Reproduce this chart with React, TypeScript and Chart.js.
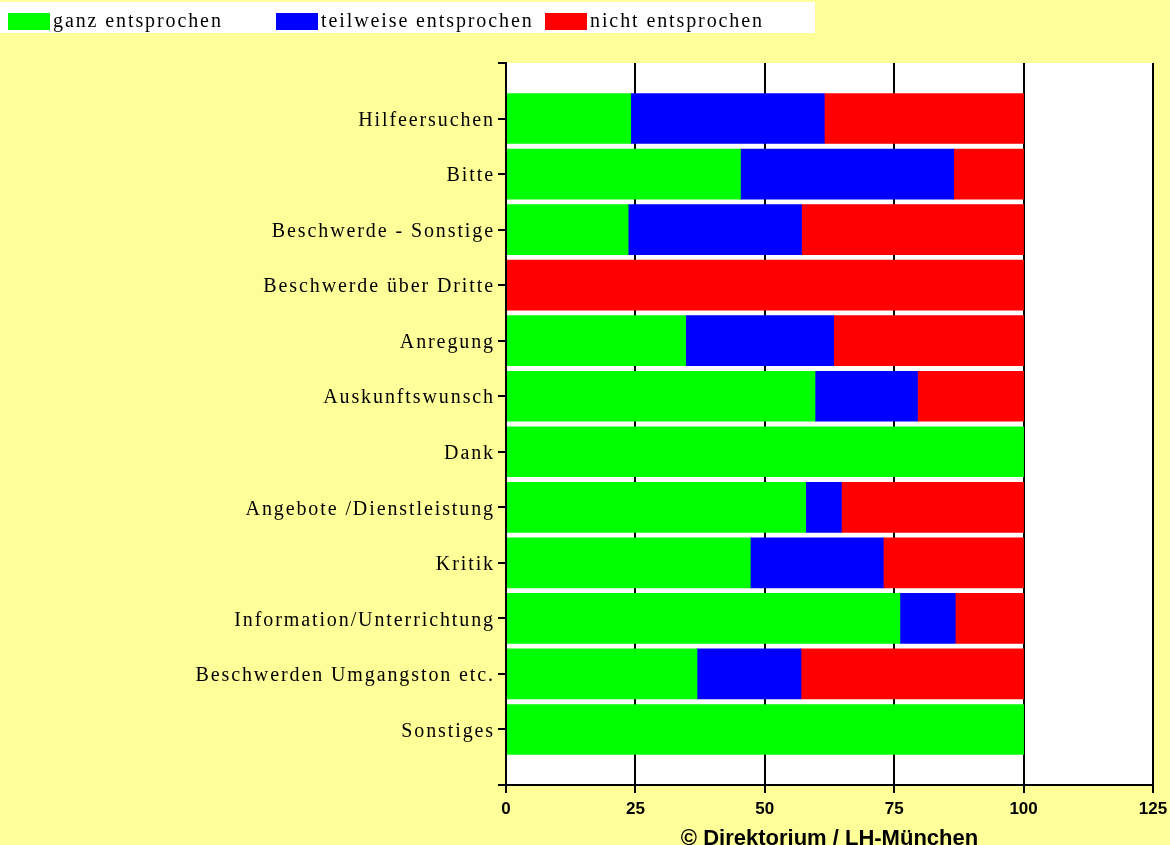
import React, { useEffect, useRef } from 'react';
import { Chart, registerables } from 'chart.js';

Chart.register(...registerables);

const categories = [
  'Hilfeersuchen',
  'Bitte',
  'Beschwerde - Sonstige',
  'Beschwerde über Dritte',
  'Anregung',
  'Auskunftswunsch',
  'Dank',
  'Angebote /Dienstleistung',
  'Kritik',
  'Information/Unterrichtung',
  'Beschwerden Umgangston etc.',
  'Sonstiges',
];
const ganz = [24.1, 45.3, 23.6, 0, 34.7, 59.7, 100, 57.9, 47.2, 76.1, 36.9, 100];
const teilweise = [37.4, 41.2, 33.5, 0, 28.6, 19.8, 0, 6.9, 25.7, 10.7, 20.1, 0];
const nicht = [38.5, 13.5, 42.9, 100, 36.7, 20.5, 0, 35.2, 27.1, 13.2, 43.0, 0];
const seriesNames = ['ganz entsprochen', 'teilweise entsprochen', 'nicht entsprochen'];
const seriesColors = ['#00FF00', '#0000FF', '#FF0000'];
const xMin = 0;
const xMax = 125;
const xStep = 25;
const axisTitle = '© Direktorium / LH-München';

const YELLOW = '#FFFF99';
const SERIF = '"Liberation Serif", "Times New Roman", serif';
const SANS = '"Liberation Sans", Arial, sans-serif';
const LS = '1.9px';

const bgPlugin = {
  id: 'bgPlugin',
  beforeDraw(chart: any) {
    const { ctx, chartArea: a, width, height } = chart;
    ctx.save();
    ctx.fillStyle = YELLOW;
    ctx.fillRect(0, 0, width, height);
    ctx.fillStyle = '#FFFFFF';
    ctx.fillRect(a.left, a.top, a.right - a.left, a.bottom - a.top);
    ctx.restore();
  },
};

const spacingPlugin = {
  id: 'spacingPlugin',
  afterLayout(chart: any) {
    const y = chart.scales.y;
    if (y && !y.__lsPatched) {
      const orig = y.drawLabels.bind(y);
      y.drawLabels = (area: any) => {
        const c = chart.ctx as any;
        const prev = c.letterSpacing || '0px';
        c.letterSpacing = LS;
        c.save();
        c.translate(0, 2);
        orig(area);
        c.restore();
        c.letterSpacing = prev;
      };
      y.__lsPatched = true;
    }
  },
};

const legendPlugin = {
  id: 'boxLegend',
  afterDraw(chart: any) {
    const ctx = chart.ctx as any;
    const xs = [8, 276, 545];
    ctx.save();
    ctx.fillStyle = '#FFFFFF';
    ctx.fillRect(0, 2, 815, 31);
    ctx.font = '20px ' + SERIF;
    ctx.letterSpacing = LS;
    ctx.textBaseline = 'alphabetic';
    ctx.textAlign = 'left';
    chart.data.datasets.forEach((ds: any, i: number) => {
      ctx.fillStyle = ds.backgroundColor;
      ctx.fillRect(xs[i], 13, 42, 17);
      ctx.fillStyle = '#000000';
      ctx.fillText(ds.label, xs[i] + 45, 27);
    });
    ctx.restore();
  },
};

export default function App() {
  const canvasRef = useRef<HTMLCanvasElement | null>(null);

  useEffect(() => {
    document.body.style.margin = '0';
    document.body.style.background = YELLOW;
    const canvas = canvasRef.current;
    if (!canvas) return;
    const labels = ['', ...categories, ''];
    const pad = (arr: number[]) => [null, ...arr, null];
    const values = [ganz, teilweise, nicht];
    const chart = new Chart(canvas, {
      type: 'bar',
      data: {
        labels,
        datasets: values.map((v, i) => ({
          label: seriesNames[i],
          data: pad(v) as any,
          backgroundColor: seriesColors[i],
          borderWidth: 0,
          barThickness: 50,
        })),
      },
      options: {
        indexAxis: 'y',
        animation: false,
        responsive: false,
        devicePixelRatio: 1,
        layout: { padding: { top: 63, right: 17, left: 0, bottom: 0 } },
        plugins: {
          legend: { display: false },
          tooltip: { enabled: false },
        },
        scales: {
          x: {
            type: 'linear',
            stacked: true,
            min: xMin,
            max: xMax,
            ticks: {
              stepSize: xStep,
              color: '#000000',
              font: { family: SANS, size: 17, weight: 'bold' },
              padding: 6,
            },
            grid: {
              color: '#000000',
              lineWidth: 2,
              tickLength: 8,
              drawOnChartArea: true,
              drawTicks: true,
            },
            border: { color: '#000000', width: 2, z: 1 },
            title: {
              display: true,
              text: axisTitle,
              color: '#000000',
              font: { family: SANS, size: 22, weight: 'bold', lineHeight: 0.8 },
              padding: { top: 0, bottom: -3 },
            },
            afterFit: (scale: any) => {
              scale.height = 60;
              scale.paddingRight = 0;
              scale.paddingLeft = 0;
            },
          },
          y: {
            type: 'category',
            stacked: true,
            offset: false,
            ticks: {
              autoSkip: false,
              color: '#000000',
              font: { family: SERIF, size: 20 },
              padding: 3,
            },
            grid: {
              offset: false,
              color: '#000000',
              lineWidth: 2,
              tickLength: 8,
              drawOnChartArea: false,
              drawTicks: true,
              z: 1,
            },
            border: { color: '#000000', width: 2, z: 1 },
            afterFit: (scale: any) => {
              scale.width = 506;
            },
          },
        },
      } as any,
      plugins: [bgPlugin, spacingPlugin, legendPlugin],
    });
    return () => chart.destroy();
  }, []);

  return (
    <div style={{ width: 1170, height: 845, overflow: 'hidden' }}>
      <canvas ref={canvasRef} width={1170} height={845} style={{ display: 'block' }} />
    </div>
  );
}
